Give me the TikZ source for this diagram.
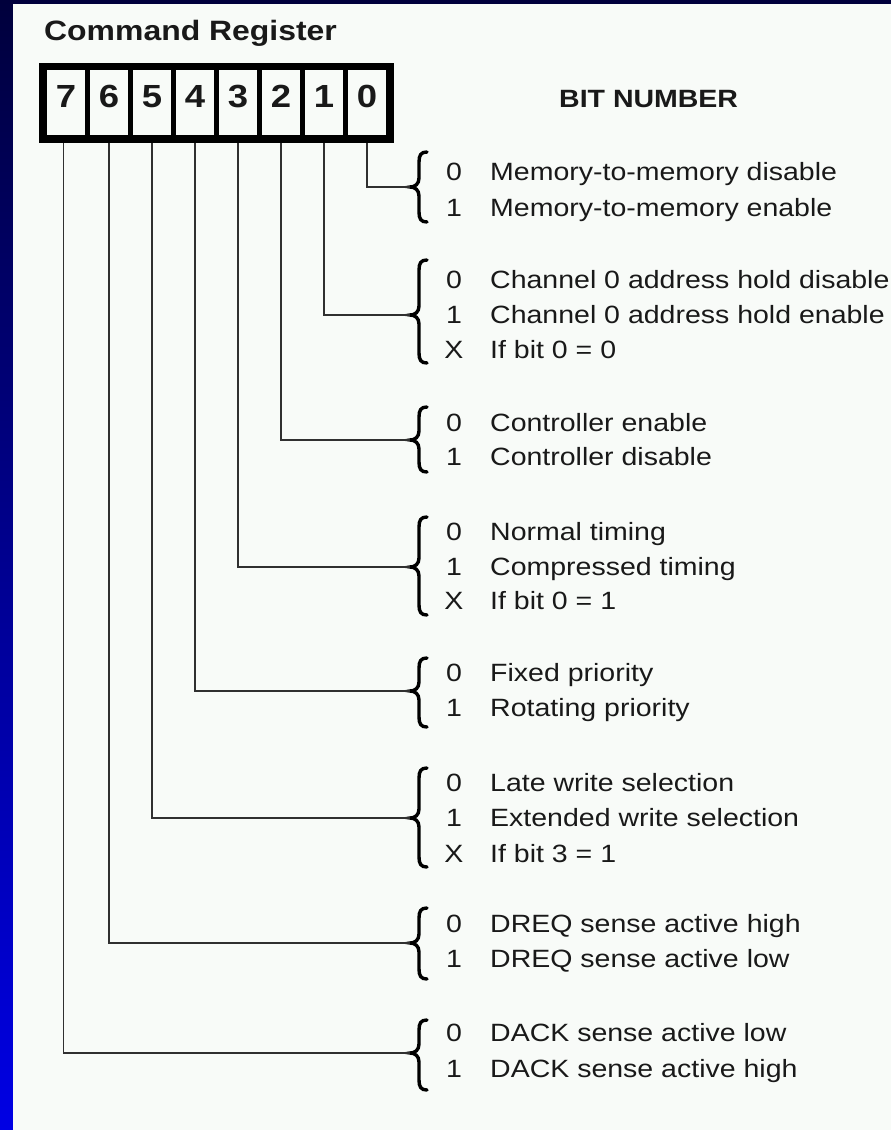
\documentclass[tikz,border=0pt]{standalone}
\usepackage{fontspec}
\setmainfont{Liberation Sans}[FakeStretch=1.14]
\definecolor{navy}{RGB}{0,0,60}
\definecolor{bblue}{RGB}{0,0,228}
\definecolor{paper}{RGB}{248,251,248}
\definecolor{ink}{RGB}{25,25,25}
\newcommand\cbrace[4]{%
  \draw[bracestyle] (427,#2) .. controls (421,#2) and (419,#2+3) .. (419,#2+10)
    -- (419,#3-9) .. controls (419,#3-3) and (415,#3) .. (410,#3)
    .. controls (415,#3) and (419,#3+3) .. (419,#3+9)
    -- (419,#4-10) .. controls (419,#4-3) and (421,#4) .. (427,#4);
  \coordinate (#1) at (410,#3);}
\begin{document}
\begin{tikzpicture}[x=1pt,y=-1pt,
  cell/.style={fill=paper,minimum width=38pt,minimum height=65pt,inner sep=0pt,
    text height=23pt,text depth=13pt,font=\bfseries\fontsize{32}{36}\selectfont,text=ink},
  conn/.style={draw=ink!90,line width=1.3pt},
  bracestyle/.style={draw=black,line width=3.4pt,line cap=round},
  val/.style={inner sep=0pt,anchor=base,font=\fontsize{25}{30}\selectfont,text=ink},
  desc/.style={inner sep=0pt,anchor=base west,font=\fontsize{25}{30}\selectfont,text=ink},
  title/.style={inner sep=0pt,anchor=base west,text=ink}]
\useasboundingbox (0,0) rectangle (891,1130);
% background
\fill[navy] (0,0) rectangle (891,1130);
\shade[top color=navy,bottom color=bblue] (0,0) rectangle (13,1130);
\fill[paper] (13,4) rectangle (891,1130);
% titles
\node[title,font=\bfseries\fontsize{28}{32}\selectfont] (ttl) at (44,40) {Command Register};
\node[title,font=\bfseries\fontsize{25}{30}\selectfont] (bitn) at (559,107) {BIT NUMBER};
% register
\node[fill=black,minimum width=355pt,minimum height=80pt,inner sep=0pt,anchor=north west] (reg) at (39,63) {};
\foreach \k in {0,...,7}{
  \pgfmathtruncatemacro\bit{7-\k}
  \node[cell] (b\bit) at (66+\k*43,102.5) {\bit};
}
% braces
\cbrace{t0}{152}{187}{222}
\cbrace{t1}{260}{315}{363}
\cbrace{t2}{407}{440}{472}
\cbrace{t3}{517}{567}{615}
\cbrace{t4}{658}{691}{727}
\cbrace{t5}{768}{818}{867}
\cbrace{t6}{908}{943}{979}
\cbrace{t7}{1020}{1053}{1090}
% connectors
\draw[conn] (b0 |- reg.south) |- (t0);
\draw[conn] (b1 |- reg.south) |- (t1);
\draw[conn] (b2 |- reg.south) |- (t2);
\draw[conn] (b3 |- reg.south) |- (t3);
\draw[conn] (b4 |- reg.south) |- (t4);
\draw[conn] (b5 |- reg.south) |- (t5);
\draw[conn] (b6 |- reg.south) |- (t6);
\draw[conn] ([xshift=-2.5pt]b7.center |- reg.south) |- (t7);
% texts
\node[val] (v0a) at (454,180) {0}; \node[desc] (d0a) at (490,180) {Memory-to-memory disable};
\node[val] (v0b) at (454,216) {1}; \node[desc] (d0b) at (490,216) {Memory-to-memory enable};
\node[val] (v1a) at (454,288) {0}; \node[desc] (d1a) at (490,288) {Channel 0 address hold disable};
\node[val] (v1b) at (454,323) {1}; \node[desc] (d1b) at (490,323) {Channel 0 address hold enable};
\node[val] (v1c) at (454,358) {X}; \node[desc] (d1c) at (490,358) {If bit 0 = 0};
\node[val] (v2a) at (454,431) {0}; \node[desc] (d2a) at (490,431) {Controller enable};
\node[val] (v2b) at (454,465) {1}; \node[desc] (d2b) at (490,465) {Controller disable};
\node[val] (v3a) at (454,540) {0}; \node[desc] (d3a) at (490,540) {Normal timing};
\node[val] (v3b) at (454,575) {1}; \node[desc] (d3b) at (490,575) {Compressed timing};
\node[val] (v3c) at (454,609) {X}; \node[desc] (d3c) at (490,609) {If bit 0 = 1};
\node[val] (v4a) at (454,681) {0}; \node[desc] (d4a) at (490,681) {Fixed priority};
\node[val] (v4b) at (454,716) {1}; \node[desc] (d4b) at (490,716) {Rotating priority};
\node[val] (v5a) at (454,791) {0}; \node[desc] (d5a) at (490,791) {Late write selection};
\node[val] (v5b) at (454,826) {1}; \node[desc] (d5b) at (490,826) {Extended write selection};
\node[val] (v5c) at (454,862) {X}; \node[desc] (d5c) at (490,862) {If bit 3 = 1};
\node[val] (v6a) at (454,932) {0}; \node[desc] (d6a) at (490,932) {DREQ sense active high};
\node[val] (v6b) at (454,967) {1}; \node[desc] (d6b) at (490,967) {DREQ sense active low};
\node[val] (v7a) at (454,1041) {0}; \node[desc] (d7a) at (490,1041) {DACK sense active low};
\node[val] (v7b) at (454,1077) {1}; \node[desc] (d7b) at (490,1077) {DACK sense active high};
\end{tikzpicture}
\end{document}
